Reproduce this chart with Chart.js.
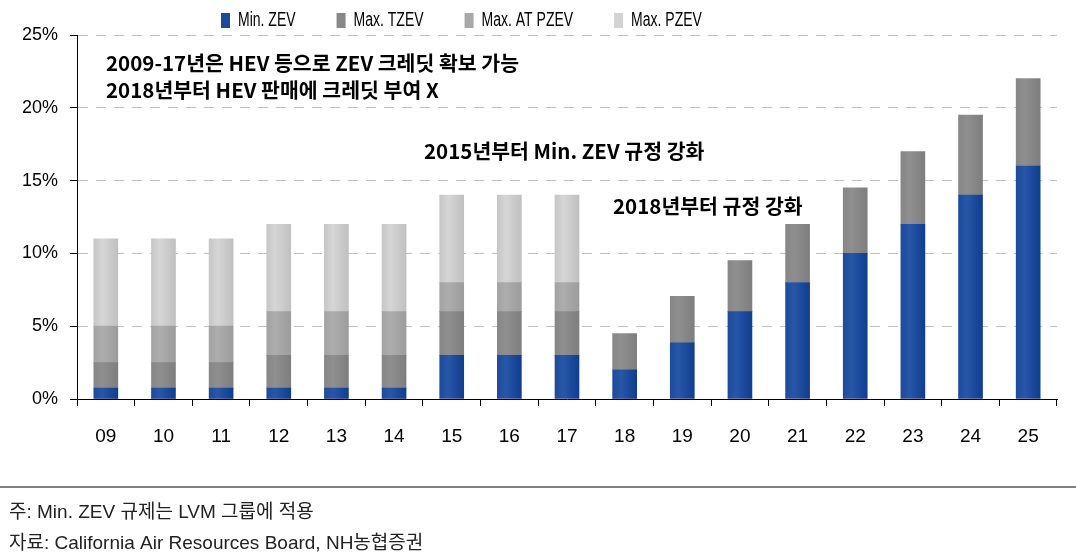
<!DOCTYPE html>
<html>
<head>
<meta charset="utf-8">
<script src="https://cdn.jsdelivr.net/npm/chart.js@4/dist/chart.umd.min.js"></script>
<style>
  body { margin: 0; background: #fff; }
  #wrap { width: 1076px; height: 560px; }
</style>
</head>
<body>
<div id="wrap"><canvas id="zevChart" width="1076" height="560"></canvas></div>
<script>
// values (% of sales)
var years = ['09', '10', '11', '12', '13', '14', '15', '16', '17', '18', '19', '20', '21', '22', '23', '24', '25'];
var minZev = [0.75, 0.75, 0.75, 0.75, 0.75, 0.75, 3, 3, 3, 2, 3.85, 6, 8, 10, 12, 14, 16];
var maxTzev = [1.75, 1.75, 1.75, 2.25, 2.25, 2.25, 3, 3, 3, 2.5, 3.2, 3.5, 4, 4.5, 5, 5.5, 6];
var maxAtPzev = [2.5, 2.5, 2.5, 3, 3, 3, 2, 2, 2, null, null, null, null, null, null, null, null];
var maxPzev = [6, 6, 6, 6, 6, 6, 6, 6, 6, null, null, null, null, null, null, null, null];
var seriesNames = ['Min. ZEV', 'Max. TZEV', 'Max. AT PZEV', 'Max. PZEV'];
var yTicks = [0, 5, 10, 15, 20, 25];

var notes = [
    {text: '2009-17년은 HEV 등으로 ZEV 크레딧 확보 가능', x: 106, y: 63},
    {text: '2018년부터 HEV 판매에 크레딧 부여 X', x: 106, y: 90},
    {text: '2015년부터 Min. ZEV 규정 강화', x: 424, y: 151},
    {text: '2018년부터 규정 강화', x: 613, y: 206}
];
var footnotes = ['주: Min. ZEV 규제는 LVM 그룹에 적용', '자료: California Air Resources Board, NH농협증권'];

// bar colours: left, highlight, right
var palette = [
    ['#1c4b9d', '#2757a6', '#0f3d92'],
    ['#868686', '#8f8f8f', '#7e7e7e'],
    ['#a3a3a3', '#adadad', '#9c9c9c'],
    ['#c6c6c6', '#d6d6d6', '#c0c0c0']
];
var legendColors = ['#1a4a9c', '#888888', '#a9a9a9', '#d3d3d3'];

function barFill(idx) {
    return function(ctx) {
        var chart = ctx.chart;
        var xs = chart.scales.x;
        var c = palette[idx];
        if (!xs || ctx.dataIndex === undefined) return c[1];
        var cx = xs.getPixelForValue(ctx.dataIndex);
        if (!isFinite(cx)) return c[1];
        var g = chart.ctx.createLinearGradient(cx - 12, 0, cx + 12, 0);
        g.addColorStop(0, c[0]);
        g.addColorStop(0.35, c[1]);
        g.addColorStop(1, c[2]);
        return g;
    }
}

var extras = {
    id: 'extras',
    afterDraw: function(chart) {
        var ctx = chart.ctx;
        ctx.save();

        // legend
        var lx = 221;
        ctx.font = '20px "Liberation Sans", Arial, sans-serif';
        ctx.textBaseline = 'middle';
        ctx.textAlign = 'left';
        for (var i = 0; i < seriesNames.length; i++) {
            ctx.fillStyle = legendColors[i];
            ctx.fillRect(lx, 13, 9, 15);
            var w = ctx.measureText(seriesNames[i]).width * 0.7;
            ctx.save();
            ctx.translate(lx + 17, 20);
            ctx.scale(0.7, 1);
            ctx.fillStyle = '#000';
            ctx.fillText(seriesNames[i], 0, 0);
            ctx.restore();
            lx = lx + 17 + w + 41;
        }

        // annotations
        ctx.font = 'bold 20.5px "Noto Sans CJK KR", sans-serif';
        ctx.fillStyle = '#000';
        notes.forEach(function(n) {
            ctx.fillText(n.text, n.x, n.y);
        });

        // separator + source notes
        ctx.fillStyle = '#808080';
        ctx.fillRect(0, 486, 1076, 2);
        ctx.font = '19px "Liberation Sans", "Noto Sans CJK KR", sans-serif';
        ctx.fillStyle = '#222';
        ctx.fillText(footnotes[0], 9, 513);
        ctx.fillText(footnotes[1], 9, 544);

        ctx.restore();
    }
};

var chartData = {
    labels: years,
    datasets: [
        {label: seriesNames[0], data: minZev, backgroundColor: barFill(0)},
        {label: seriesNames[1], data: maxTzev, backgroundColor: barFill(1)},
        {label: seriesNames[2], data: maxAtPzev, backgroundColor: barFill(2)},
        {label: seriesNames[3], data: maxPzev, backgroundColor: barFill(3)}
    ]
};

var zevChart = new Chart(document.getElementById('zevChart').getContext('2d'), {
    type: 'bar',
    data: chartData,
    options: {
        responsive: false,
        animation: false,
        barThickness: 24,
        layout: {
            padding: {top: 35, right: 19, bottom: 111, left: 0}
        },
        plugins: {
            legend: {display: false},
            tooltip: {enabled: false}
        },
        scales: {
            x: {
                stacked: true,
                grid: {
                    offset: true,
                    drawOnChartArea: false,
                    tickLength: 7,
                    tickColor: '#000'
                },
                border: {color: '#000', width: 1},
                ticks: {
                    color: '#000',
                    padding: 19,
                    font: {family: '"Liberation Sans", Arial, sans-serif', size: 19}
                },
                afterFit: function(scale) { scale.height = 50; }
            },
            y: {
                stacked: true,
                min: 0,
                max: 25,
                afterBuildTicks: function(scale) {
                    scale.ticks = yTicks.map(function(v) { return {value: v}; });
                },
                grid: {
                    color: '#c0c0c0',
                    lineWidth: 1,
                    tickLength: 7,
                    tickColor: '#000'
                },
                border: {color: '#000', width: 1, dash: [10, 8]},
                ticks: {
                    color: '#000',
                    padding: 12,
                    font: {family: '"Liberation Sans", Arial, sans-serif', size: 18},
                    callback: function(v) { return v + '%'; }
                },
                afterFit: function(scale) { scale.width = 77; }
            }
        }
    },
    plugins: [extras]
});
</script>
</body>
</html>
